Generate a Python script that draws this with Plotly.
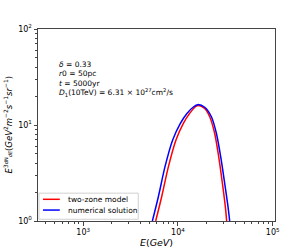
import plotly.graph_objects as go

# Red: two-zone model
E_red = [5820, 6730, 7930, 9530, 11400, 13280, 15270, 16410, 19140, 21630, 24380, 26900, 29440, 31620, 32660]
Y_red = [1.0, 1.79, 3.68, 6.98, 10.4, 13.2, 15.5, 16.0, 14.9, 12.2, 8.2, 4.68, 2.47, 1.41, 1.0]

# Blue: numerical solution
E_blue = [5370, 6210, 7300, 8790, 10600, 12440, 14650, 16140, 19140, 22530, 25430, 28240, 31120, 33730, 35140]
Y_blue = [1.0, 1.79, 3.68, 6.98, 10.4, 13.2, 15.5, 16.3, 15.3, 12.2, 8.2, 4.68, 2.47, 1.41, 1.0]

names = ["two-zone model", "numerical solution"]
colors = ["#ff0000", "#0000ff"]

x_ticks = [1e3, 1e4, 1e5]
x_ticktext = ["10<sup>3</sup>", "10<sup>4</sup>", "10<sup>5</sup>"]
y_ticks = [1, 10, 100]
y_ticktext = ["10<sup>0</sup>", "10<sup>1</sup>", "10<sup>2</sup>"]

x_minor = [m * 10 ** k for k in (2, 3, 4) for m in range(2, 10)]
y_minor = [m * 10 ** k for k in (0, 1) for m in range(2, 10)]

params = [
    "<i>δ</i> = 0.33",
    "<i>r</i>0 = 50pc",
    "<i>t</i> = 5000yr",
    "<i>D</i><sub>1</sub>(10TeV) = 6.31 × 10<sup>27</sup>cm<sup>2</sup>/s",
]

font = "DejaVu Sans"
fig = go.Figure()
for E, Y, n, c in zip([E_red, E_blue], [Y_red, Y_blue], names, colors):
    fig.add_trace(go.Scatter(x=E, y=Y, mode="lines", name=n, showlegend=False,
                             line=dict(color=c, width=1.5, shape="spline", smoothing=0.8)))

axis_common = dict(showline=True, linecolor="#444", linewidth=1, mirror=True,
                   ticks="outside", ticklen=3.5, tickwidth=0.8, tickcolor="#444",
                   showgrid=False, zeroline=False, automargin=False,
                   tickfont=dict(family=font, size=8, color="black"))

fig.update_xaxes(type="log", range=[2.523, 5.024], tickvals=x_ticks, ticktext=x_ticktext,
                 minor=dict(tickvals=x_minor, ticks="outside", ticklen=2, tickwidth=0.6, tickcolor="#444"),
                 title=dict(text="<i>E</i>(<i>GeV</i>)", font=dict(family=font, size=9.5, color="black"), standoff=0),
                 **axis_common)
fig.update_yaxes(type="log", range=[0, 2], tickvals=y_ticks, ticktext=y_ticktext,
                 minor=dict(tickvals=y_minor, ticks="outside", ticklen=2, tickwidth=0.6, tickcolor="#444"),
                 **axis_common)

# y-axis title as rotated annotation
ytitle = ("<i>E</i><sup>3<span style='font-size:5px'>dN</span></sup>"
          "<span style='font-size:5px'><i>dE</i></span>"
          "(<i>GeV</i><sup>2</sup><i>m</i><sup>−2</sup><i>s</i><sup>−1</sup><i>sr</i><sup>−1</sup>)")
fig.add_annotation(text=ytitle, xref="paper", yref="paper", x=-0.125, y=0.5,
                   xanchor="center", yanchor="middle", textangle=-90, showarrow=False,
                   font=dict(family=font, size=8.5, color="black"))

ys = [0.814, 0.767, 0.718, 0.668]
for txt, yy in zip(params, ys):
    fig.add_annotation(text=txt, xref="paper", yref="paper", x=0.079, y=yy,
                       xanchor="left", yanchor="middle", showarrow=False,
                       font=dict(family=font, size=7.5, color="black"))

# manual legend (matplotlib style)
fig.add_shape(type="rect", xref="paper", yref="paper", x0=0.004, x1=0.423, y0=0.009, y1=0.145,
              line=dict(color="#d0d0d0", width=1), fillcolor="rgba(255,255,255,0.8)", layer="above")
for n, c, yy in zip(names, colors, [0.113, 0.057]):
    fig.add_shape(type="line", xref="paper", yref="paper", x0=0.021, x1=0.092, y0=yy, y1=yy,
                  line=dict(color=c, width=1.5), layer="above")
    fig.add_annotation(text=n, xref="paper", yref="paper", x=0.119, y=yy,
                       xanchor="left", yanchor="middle", showarrow=False,
                       font=dict(family=font, size=7.5, color="black"))

fig.update_layout(
    width=306, height=249,
    margin=dict(l=38, r=31, t=29, b=28),
    paper_bgcolor="white", plot_bgcolor="white",
    showlegend=False,
)

fig.write_html("out.html", config={"displayModeBar": False},
               post_script="document.body.style.margin='0';document.body.style.padding='0';")
